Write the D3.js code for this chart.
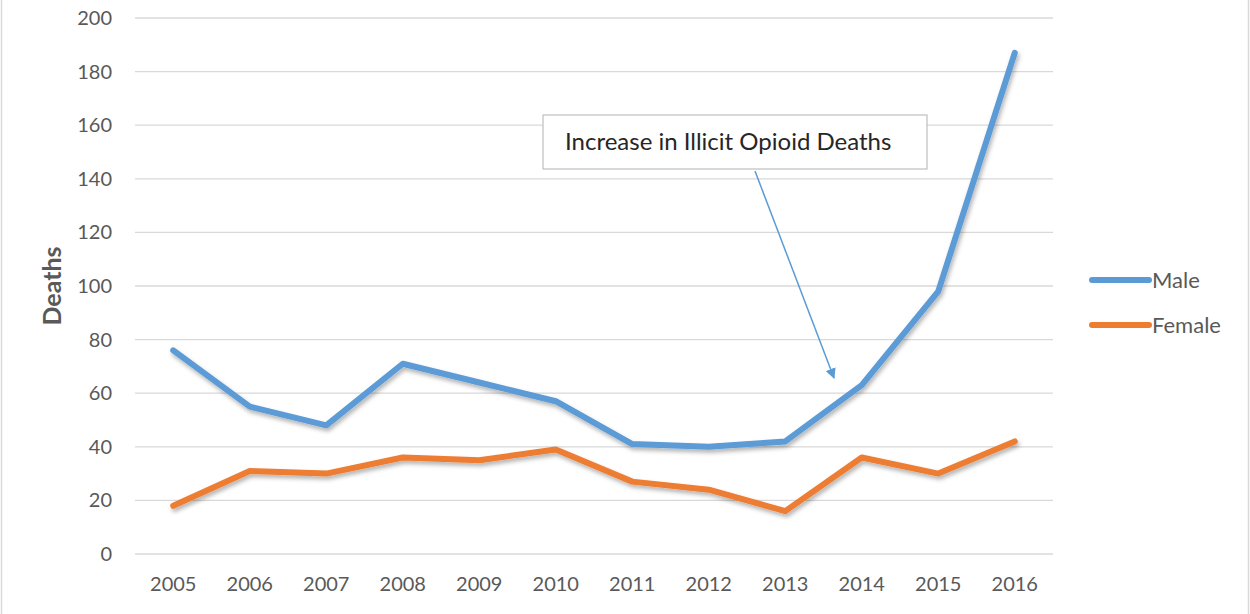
<!DOCTYPE html>
<html>
<head>
<meta charset="utf-8">
<script src="https://cdn.jsdelivr.net/npm/d3@7"></script>
<style>
  html, body { margin: 0; padding: 0; background: #fff; }
  svg { display: block; font-family: Lato, "Open Sans", sans-serif; }
</style>
</head>
<body>
<svg id="chart" width="1250" height="614"></svg>
<script>
// Data
const years = ['2005', '2006', '2007', '2008', '2009', '2010', '2011', '2012', '2013', '2014', '2015', '2016'];
const maleDeaths = [76, 55, 48, 71, 64, 57, 41, 40, 42, 63, 98, 187];
const femaleDeaths = [18, 31, 30, 36, 35, 39, 27, 24, 16, 36, 30, 42];
const yTicks = [0, 20, 40, 60, 80, 100, 120, 140, 160, 180, 200];
const seriesNames = ['Male', 'Female'];
const seriesColors = ['#5B9BD5', '#ED7D31'];
const annotationText = 'Increase in Illicit Opioid Deaths';

const W = 1250, H = 614;
const plot = { left: 135, right: 1053, top: 18, bottom: 554 };

const svg = d3.select('#chart');

// Outer frame
svg.append('rect')
    .attr('x', 1.5).attr('y', -2)
    .attr('width', W - 3).attr('height', H + 4)
    .attr('fill', 'none')
    .attr('stroke', '#d9d9d9')
    .attr('stroke-width', 1.5);

// Soft shadow under the lines
const defs = svg.append('defs');
const shadow = defs.append('filter')
    .attr('id', 'shadow')
    .attr('x', '-5%').attr('y', '-5%')
    .attr('width', '110%').attr('height', '120%');
shadow.append('feDropShadow')
    .attr('dx', 1.5).attr('dy', 3)
    .attr('stdDeviation', 2.2)
    .attr('flood-color', '#000')
    .attr('flood-opacity', 0.3);

defs.append('marker')
    .attr('id', 'arrowhead')
    .attr('viewBox', '0 0 10 10')
    .attr('refX', 9).attr('refY', 5)
    .attr('markerWidth', 7).attr('markerHeight', 7)
    .attr('markerUnits', 'strokeWidth')
    .attr('orient', 'auto')
  .append('path')
    .attr('d', 'M0,0 L10,5 L0,10 Z')
    .attr('fill', '#5B9BD5');

// Scales
const x = d3.scaleBand()
    .domain(years)
    .range([plot.left, plot.right]);

const y = d3.scaleLinear()
    .domain([0, 200])
    .range([plot.bottom, plot.top]);

const xc = d => x(d) + x.bandwidth() / 2;

// Gridlines
svg.append('g')
    .selectAll('line')
    .data(yTicks)
    .join('line')
    .attr('x1', plot.left).attr('x2', plot.right)
    .attr('y1', d => y(d)).attr('y2', d => y(d))
    .attr('stroke', '#d9d9d9')
    .attr('stroke-width', 1.3);

// Y axis labels
const yAxis = svg.append('g')
    .attr('transform', `translate(${plot.left - 23},0)`)
    .call(d3.axisLeft(y).tickValues(yTicks).tickSize(0).tickPadding(0));
yAxis.select('.domain').remove();
yAxis.selectAll('text')
    .attr('fill', '#595959')
    .style('font-size', '20px')
    .style('font-family', 'Lato, "Open Sans", sans-serif');

// X axis labels
const xAxis = svg.append('g')
    .attr('transform', `translate(0,${plot.bottom + 23})`)
    .call(d3.axisBottom(x).tickSize(0).tickPadding(0));
xAxis.select('.domain').remove();
xAxis.selectAll('text')
    .attr('fill', '#595959')
    .style('font-size', '20px')
    .style('font-family', 'Lato, "Open Sans", sans-serif');

// Y axis title
svg.append('text')
    .attr('transform', `translate(61,${(plot.top + plot.bottom) / 2}) rotate(-90)`)
    .attr('text-anchor', 'middle')
    .attr('fill', '#595959')
    .style('font-size', '25px')
    .style('font-weight', 'bold')
    .text('Deaths');

// Lines
const series = [maleDeaths, femaleDeaths];
const line = d3.line()
    .x((d, i) => xc(years[i]))
    .y(d => y(d));

svg.append('g')
    .attr('filter', 'url(#shadow)')
    .selectAll('path')
    .data(series)
    .join('path')
    .attr('d', d => line(d))
    .attr('fill', 'none')
    .attr('stroke', (d, i) => seriesColors[i])
    .attr('stroke-width', 6)
    .attr('stroke-linejoin', 'round')
    .attr('stroke-linecap', 'round');

// Legend
const legend = svg.append('g')
    .selectAll('g')
    .data(seriesNames)
    .join('g')
    .attr('transform', (d, i) => `translate(1092,${280 + i * 45})`);
legend.append('line')
    .attr('x1', 0).attr('x2', 57)
    .attr('stroke', (d, i) => seriesColors[i])
    .attr('stroke-width', 6)
    .attr('stroke-linecap', 'round');
legend.append('text')
    .attr('x', 60).attr('dy', '0.35em')
    .attr('fill', '#595959')
    .style('font-size', '22px')
    .text(d => d);

// Annotation box and arrow
const note = svg.append('g');
note.append('rect')
    .attr('x', 543).attr('y', 115)
    .attr('width', 384).attr('height', 54)
    .attr('fill', '#fff')
    .attr('stroke', '#bfbfbf')
    .attr('stroke-width', 1.2);
note.append('text')
    .attr('x', 565).attr('y', 150)
    .attr('fill', '#262626')
    .style('font-size', '24px')
    .text(annotationText);
note.append('line')
    .attr('x1', 755).attr('y1', 171)
    .attr('x2', 834).attr('y2', 378)
    .attr('stroke', '#5B9BD5')
    .attr('stroke-width', 1.5)
    .attr('marker-end', 'url(#arrowhead)');
</script>
</body>
</html>
